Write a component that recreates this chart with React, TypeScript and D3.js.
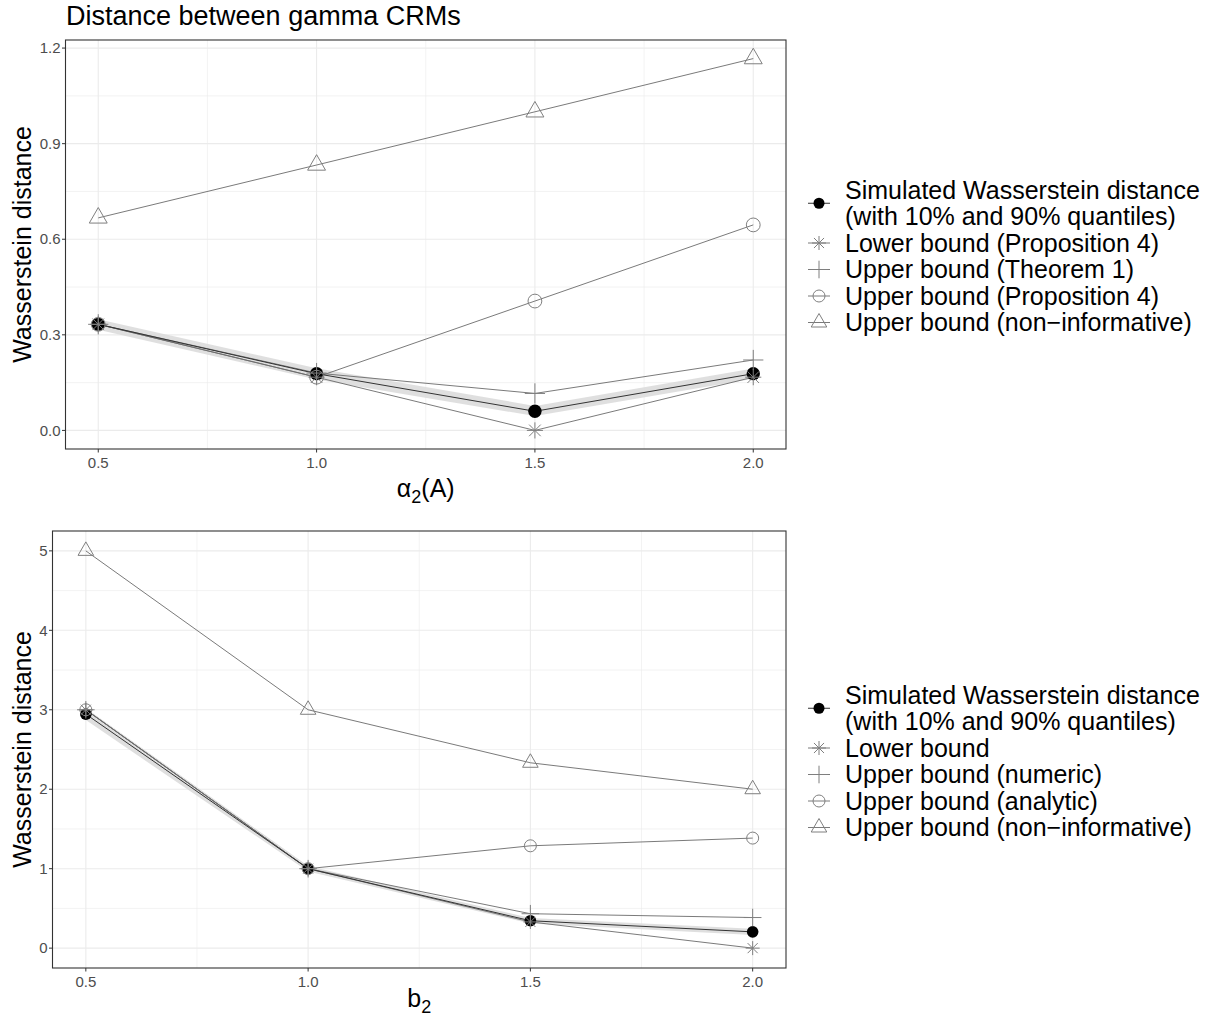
import React from "react";
import * as d3 from "d3";

const xValues = [0.5, 1.0, 1.5, 2.0];

// top panel: alpha_2(A)
const alphaSim = [0.333, 0.178, 0.06, 0.178];
const alphaSimLow = [0.316, 0.16, 0.045, 0.162];
const alphaSimHigh = [0.349, 0.195, 0.077, 0.194];
const alphaLower = [0.333, 0.167, 0.0, 0.167];
const alphaUpperThm = [0.333, 0.18, 0.116, 0.221];
const alphaUpperProp = [0.333, 0.167, 0.406, 0.645];
const alphaNonInf = [0.667, 0.833, 1.0, 1.167];
const alphaYTicks = [0, 0.3, 0.6, 0.9, 1.2];
const alphaLegend = [
  "Lower bound (Proposition 4)",
  "Upper bound (Theorem 1)",
  "Upper bound (Proposition 4)",
  "Upper bound (non\u2212informative)",
];

// bottom panel: b_2
const bSim = [2.945, 1.0, 0.345, 0.205];
const bSimLow = [2.87, 0.965, 0.31, 0.165];
const bSimHigh = [3.02, 1.035, 0.38, 0.245];
const bLower = [3.0, 1.0, 0.33, 0.0];
const bUpperNum = [3.0, 1.0, 0.433, 0.385];
const bUpperAna = [3.0, 1.0, 1.288, 1.385];
const bNonInf = [5.0, 3.0, 2.333, 2.0];
const bYTicks = [0, 1, 2, 3, 4, 5];
const bLegend = [
  "Lower bound",
  "Upper bound (numeric)",
  "Upper bound (analytic)",
  "Upper bound (non\u2212informative)",
];

const simLegend = ["Simulated Wasserstein distance", "(with 10% and 90% quantiles)"];
const xTicks = [0.5, 1.0, 1.5, 2.0];

const FONT = "Liberation Sans, Arial, Helvetica, sans-serif";
const GREY = "#7f7f7f";
const LINE = "#6b6b6b";

type ShapeType = "dot" | "star" | "plus" | "circle" | "triangle";

function Shape({ type, x, y, k }: { type: ShapeType; x: number; y: number; k: number }) {
  if (type === "dot") return <circle cx={x} cy={y} r={5.8 * k} fill="#000" />;
  if (type === "circle")
    return <circle cx={x} cy={y} r={6 * k} fill="none" stroke={GREY} strokeWidth={1} />;
  if (type === "plus") {
    const s = 8.8 * k;
    return <path d={`M${x - s},${y}H${x + s}M${x},${y - s}V${y + s}`} stroke={GREY} strokeWidth={1} />;
  }
  if (type === "star") {
    const s = 7 * k;
    const d = s * 0.72;
    return (
      <path
        d={`M${x - s},${y}H${x + s}M${x},${y - s}V${y + s}M${x - d},${y - d}L${x + d},${y + d}M${x - d},${y + d}L${x + d},${y - d}`}
        stroke={GREY}
        strokeWidth={1}
      />
    );
  }
  const r = 9 * k;
  const h = r * 0.866;
  return (
    <path
      d={`M${x},${y - r}L${x + h},${y + r / 2}L${x - h},${y + r / 2}Z`}
      fill="none"
      stroke={GREY}
      strokeWidth={1}
    />
  );
}

type Series = { values: number[]; shape: ShapeType };

function Panel(props: {
  left: number;
  right: number;
  top: number;
  bottom: number;
  sim: number[];
  low: number[];
  high: number[];
  bounds: Series[];
  yTicks: number[];
  yFormat: (v: number) => string;
  yMinor: number[];
  k: number;
  xTitle: React.ReactNode;
  legend: string[];
  legendTop: number;
}) {
  const { left, right, top, bottom, sim, low, high, bounds, yTicks, yFormat, yMinor, k } = props;
  const all = [...low, ...high, ...sim, ...bounds.flatMap((b) => b.values)];
  const [mn, mx] = d3.extent(all) as [number, number];
  const pad = (mx - mn) * 0.05;
  const y = d3.scaleLinear().domain([mn - pad, mx + pad]).range([bottom, top]);
  const x = d3.scaleLinear().domain([0.425, 2.075]).range([left, right]);
  const xMinor = [0.75, 1.25, 1.75];

  const line = d3
    .line<number>()
    .x((_, i) => x(xValues[i]))
    .y((d) => y(d));
  const area = d3
    .area<number>()
    .x((_, i) => x(xValues[i]))
    .y0((_, i) => y(low[i]))
    .y1((_, i) => y(high[i]));

  const midY = (top + bottom) / 2;
  const pitch = 26.5;
  const keyX = 819;
  const textX = 845;
  const rows = [simLegend[0], simLegend[1], ...props.legend];
  const legendShapes: ShapeType[] = bounds.map((b) => b.shape);

  return (
    <g>
      {/* grid */}
      {yMinor.map((v) => (
        <line key={"ym" + v} x1={left} x2={right} y1={y(v)} y2={y(v)} stroke="#ebebeb" strokeWidth={0.6} />
      ))}
      {xMinor.map((v) => (
        <line key={"xm" + v} x1={x(v)} x2={x(v)} y1={top} y2={bottom} stroke="#ebebeb" strokeWidth={0.6} />
      ))}
      {yTicks.map((v) => (
        <line key={"y" + v} x1={left} x2={right} y1={y(v)} y2={y(v)} stroke="#ebebeb" strokeWidth={1.1} />
      ))}
      {xTicks.map((v) => (
        <line key={"x" + v} x1={x(v)} x2={x(v)} y1={top} y2={bottom} stroke="#ebebeb" strokeWidth={1.1} />
      ))}

      {/* ribbon + lines */}
      <path d={area(sim) || ""} fill="#d9d9d9" opacity={0.85} />
      {bounds.map((b, i) => (
        <path key={"l" + i} d={line(b.values) || ""} fill="none" stroke={LINE} strokeWidth={0.9} />
      ))}
      <path d={line(sim) || ""} fill="none" stroke="#333" strokeWidth={1} />

      {/* points */}
      {sim.map((v, i) => (
        <Shape key={"s" + i} type="dot" x={x(xValues[i])} y={y(v)} k={k} />
      ))}
      {bounds.map((b, j) =>
        b.values.map((v, i) => <Shape key={`p${j}-${i}`} type={b.shape} x={x(xValues[i])} y={y(v)} k={k} />)
      )}

      {/* border */}
      <rect x={left} y={top} width={right - left} height={bottom - top} fill="none" stroke="#333" strokeWidth={1.1} />

      {/* axes */}
      {yTicks.map((v) => (
        <g key={"yt" + v}>
          <line x1={left - 3.5} x2={left} y1={y(v)} y2={y(v)} stroke="#333" strokeWidth={1} />
          <text x={left - 5} y={y(v)} dy="0.35em" textAnchor="end" fontSize={15} fill="#4d4d4d" fontFamily={FONT}>
            {yFormat(v)}
          </text>
        </g>
      ))}
      {xTicks.map((v) => (
        <g key={"xt" + v}>
          <line x1={x(v)} x2={x(v)} y1={bottom} y2={bottom + 3.5} stroke="#333" strokeWidth={1} />
          <text x={x(v)} y={bottom + 19} textAnchor="middle" fontSize={15} fill="#4d4d4d" fontFamily={FONT}>
            {d3.format(".1f")(v)}
          </text>
        </g>
      ))}
      <text
        transform={`translate(22,${midY}) rotate(-90)`}
        textAnchor="middle"
        dy="0.35em"
        fontSize={25}
        fontFamily={FONT}
        fill="#000"
      >
        Wasserstein distance
      </text>
      {props.xTitle}

      {/* legend */}
      <line x1={keyX - 11} x2={keyX + 11} y1={props.legendTop + pitch / 2} y2={props.legendTop + pitch / 2} stroke="#333" strokeWidth={1} />
      <circle cx={keyX} cy={props.legendTop + pitch / 2} r={5.5} fill="#000" />
      {legendShapes.map((s, i) => {
        const cy = props.legendTop + pitch * (i + 2);
        return (
          <g key={"lg" + i}>
            <line x1={keyX - 11} x2={keyX + 11} y1={cy} y2={cy} stroke={LINE} strokeWidth={0.9} />
            <Shape type={s} x={keyX} y={cy} k={1} />
          </g>
        );
      })}
      {rows.map((t, i) => (
        <text key={"lt" + i} x={textX} y={props.legendTop + pitch * i} dy="0.35em" fontSize={25} fontFamily={FONT} fill="#000">
          {t}
        </text>
      ))}
    </g>
  );
}

export default function App() {
  const top1 = { left: 65.5, right: 786, top: 40, bottom: 449 };
  const top2 = { left: 52.5, right: 786, top: 531, bottom: 968 };
  return (
    <svg
      width={1217}
      height={1024}
      style={{ position: "absolute", left: 0, top: 0, background: "#fff" }}
    >
      <text x={66} y={25} fontSize={27} fontFamily={FONT} fill="#000">
        Distance between gamma CRMs
      </text>
      <Panel
        {...top1}
        sim={alphaSim}
        low={alphaSimLow}
        high={alphaSimHigh}
        bounds={[
          { values: alphaLower, shape: "star" },
          { values: alphaUpperThm, shape: "plus" },
          { values: alphaUpperProp, shape: "circle" },
          { values: alphaNonInf, shape: "triangle" },
        ]}
        yTicks={alphaYTicks}
        yFormat={d3.format(".1f")}
        yMinor={[0.15, 0.45, 0.75, 1.05]}
        k={1.15}
        legend={alphaLegend}
        legendTop={190}
        xTitle={
          <text x={(top1.left + top1.right) / 2} y={497} textAnchor="middle" fontSize={25} fontFamily={FONT}>
            α<tspan fontSize={18} dy={6}>2</tspan>
            <tspan dy={-6}>(A)</tspan>
          </text>
        }
      />
      <Panel
        {...top2}
        sim={bSim}
        low={bSimLow}
        high={bSimHigh}
        bounds={[
          { values: bLower, shape: "star" },
          { values: bUpperNum, shape: "plus" },
          { values: bUpperAna, shape: "circle" },
          { values: bNonInf, shape: "triangle" },
        ]}
        yTicks={bYTicks}
        yFormat={d3.format("d")}
        yMinor={[0.5, 1.5, 2.5, 3.5, 4.5]}
        k={1}
        legend={bLegend}
        legendTop={695}
        xTitle={
          <text x={(top2.left + top2.right) / 2} y={1007} textAnchor="middle" fontSize={25} fontFamily={FONT}>
            b<tspan fontSize={18} dy={6}>2</tspan>
          </text>
        }
      />
    </svg>
  );
}
